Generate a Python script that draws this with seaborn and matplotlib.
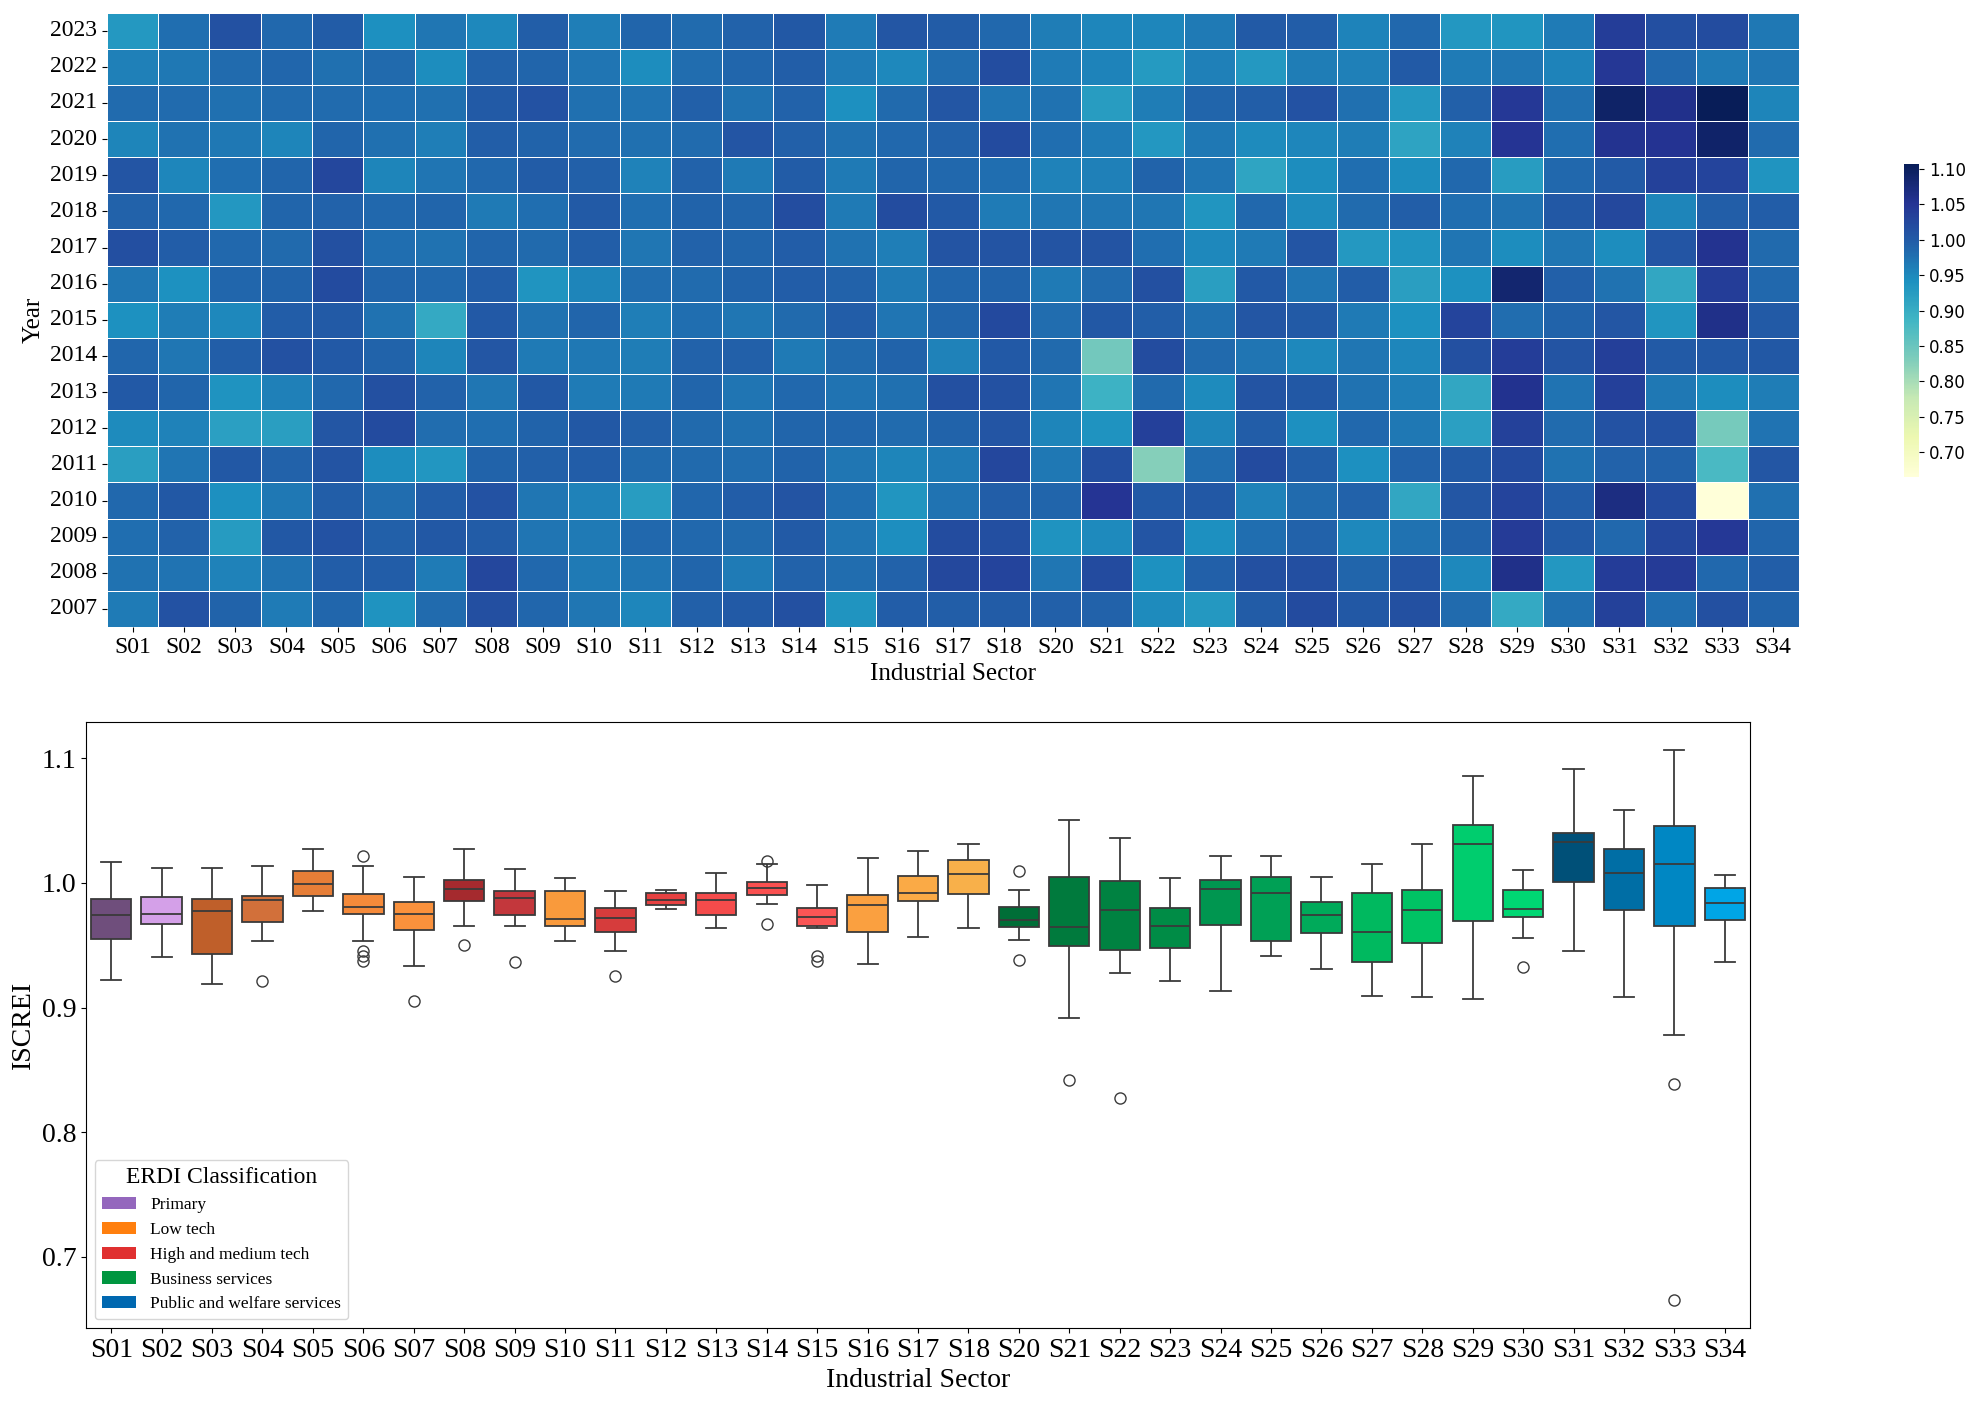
import numpy as np
import pandas as pd
import seaborn as sns
import matplotlib.pyplot as plt
from matplotlib.patches import Patch

plt.rcParams['font.family'] = ['Liberation Serif', 'DejaVu Serif']

years = list(range(2007, 2024))
sectors = ['S01', 'S02', 'S03', 'S04', 'S05', 'S06', 'S07', 'S08', 'S09', 'S10',
           'S11', 'S12', 'S13', 'S14', 'S15', 'S16', 'S17', 'S18', 'S20', 'S21',
           'S22', 'S23', 'S24', 'S25', 'S26', 'S27', 'S28', 'S29', 'S30', 'S31',
           'S32', 'S33', 'S34']

# ISCREI per sector, years 2007 -> 2023
S01 = [.965, .9745, .978, .985, .922, .948, 1.002, .987, .940, .970, 1.017, .993, 1.008, .955, .982, .960, .930]
S02 = [1.012, .973, .992, 1.004, .971, .958, .9884, .969, .963, .941, .998, .985, .952, .9755, .982, .9673, .979]
S03 = [.991, .958, .926, .9429, 1.004, .9193, .938, .996, .950, .9873, .985, .932, .979, .968, .9772, .982, 1.0122]
S04 = [.965, .975, 1.004, .9686, .993, .9212, .960, 1.0133, .998, .9897, .984, .989, .988, .9536, .981, .987, .986]
S05 = [.987, .997, 1.011, .995, 1.0093, 1.006, .985, 1.003, 1.001, 1.021, 1.015, .992, 1.0275, .9895, .981, .9772, .9991]
S06 = [.9378, .997, .994, .9804, .9453, 1.0216, 1.014, .9913, .9753, .988, .979, .986, .9536, .977, .978, .983, .9418]
S07 = [.982, .965, 1.0047, .998, .9333, .980, .993, .955, .9057, .9847, .9755, .988, .972, .9619, .977, .945, .969]
S08 = [1.016, 1.027, .999, 1.011, .991, .978, .970, 1.006, 1.0026, .997, .988, .9656, .9855, .9954, 1.001, .993, .9504]
S09 = [.9876, .986, .972, .969, .9932, .991, 1.004, .9656, .9742, .9365, .983, .978, .999, .990, 1.0112, .989, .996]
S10 = [.970, .967, .9656, .957, .997, 1.0037, .964, .968, .988, .9536, .995, 1.000, .9932, .982, .976, .9713, .961]
S11 = [.953, .9723, .986, .9257, .983, .9932, .966, .963, .9608, .9801, .969, .978, .958, .976, .974, .9458, .989]
S12 = [.994, .988, .985, .9865, .984, .983, .989, .993, .9788, .981, .9919, .990, .992, .982, .9935, .9805, .9815]
S13 = [1.001, .9638, .983, .997, .980, .977, .972, .994, .970, .990, .989, .988, .967, 1.0082, .9742, .9865, .9922]
S14 = [1.0149, .992, 1.0007, 1.009, .9903, .988, .986, .9667, .9828, .998, .997, 1.018, .999, .994, .993, .9959, 1.004]
S15 = [.9373, .9798, .971, .978, .969, .987, .9731, .983, .998, .992, .975, .967, .9656, .977, .9418, .965, .9638]
S16 = [.997, .993, .944, .9351, .955, .982, .977, .9905, .972, .967, .9608, 1.0197, .988, .986, .984, .950, 1.006]
S17 = [.995, 1.0253, 1.019, .973, .966, .991, 1.014, .957, .989, .987, 1.009, 1.002, .9855, .9922, 1.0055, .980, .999]
S18 = [.999, 1.031, 1.016, .995, 1.027, 1.0074, 1.013, 1.003, 1.024, .9913, 1.010, .9638, .978, 1.021, .972, 1.0187, .986]
S20 = [.994, .969, .938, .989, .968, .9544, .972, .984, .9809, .966, 1.0093, .9705, .958, .978, .975, .9646, .962]
S21 = [.992, 1.022, .9493, 1.0502, 1.016, .938, .8917, .8422, 1.0047, .982, 1.010, .970, .960, .9648, .925, .956, .952]
S22 = [.9466, .940, 1.008, 1.0018, .8272, 1.036, .984, 1.020, .996, 1.014, .978, .970, .990, .932, .962, .9276, .952]
S23 = [.930, .994, .942, 1.0037, .9798, .955, .9477, .983, .976, .9212, .951, .936, .972, .968, .988, .960, .9656]
S24 = [.999, 1.015, .978, .958, 1.0216, .997, 1.010, .972, 1.006, 1.0026, .9664, .986, .9134, .948, .9951, .930, 1.001]
S25 = [1.0216, 1.016, .9922, .982, .995, .9418, 1.0047, .951, 1.001, .972, 1.008, .948, .945, .9533, 1.012, .962, .998]
S26 = [1.0047, .988, .950, .992, .942, .9847, .9742, .970, .966, .998, .9306, .982, .979, .963, .976, .960, .956]
S27 = [1.0149, 1.007, .975, .9097, .9922, .968, .961, .953, .940, .922, .9362, .996, .945, .915, .930, 1.001, .985]
S28 = [.982, .9515, .990, 1.006, 1.000, .920, .9089, 1.015, 1.031, .940, .971, .978, .986, .957, .994, .964, .932]
S29 = [.9067, 1.062, 1.042, 1.031, 1.022, 1.034, 1.056, 1.038, .980, 1.0861, .945, .975, .925, 1.051, 1.0462, .9694, .935]
S30 = [.976, .9324, 1.000, .997, .975, .982, .9731, 1.0101, .990, .994, .970, 1.005, .986, .9788, .977, .956, .965]
S31 = [1.0328, 1.0403, .985, 1.068, .992, 1.012, 1.035, 1.037, 1.006, .975, .9458, 1.025, 1.0007, 1.055, 1.0917, 1.048, 1.039]
S32 = [.978, 1.043, 1.0275, 1.022, .992, 1.012, .968, 1.000, .935, .9089, 1.0082, .955, 1.034, 1.052, 1.0588, .985, 1.016]
S33 = [1.0149, .985, 1.0454, .665, .8784, .8385, .945, 1.005, 1.062, 1.038, 1.055, .995, 1.030, 1.090, 1.107, .9656, 1.020]
S34 = [.991, .9959, .988, .977, 1.0063, .974, .963, 1.004, 1.001, .986, .9839, .998, .9362, .981, .955, .9705, .968]

series = [S01, S02, S03, S04, S05, S06, S07, S08, S09, S10, S11, S12, S13, S14, S15, S16, S17,
          S18, S20, S21, S22, S23, S24, S25, S26, S27, S28, S29, S30, S31, S32, S33, S34]

# ERDI class of each sector and box colours
erdi = (['Primary'] * 2 + ['Low tech'] * 5 + ['High and medium tech'] * 2 + ['Low tech']
        + ['High and medium tech'] * 5 + ['Low tech'] * 3 + ['Business services'] * 11
        + ['Public and welfare services'] * 4)
box_colors = ['#6f4e7c', '#d4a0e8', '#bf5f2a', '#d2703a', '#e67e37', '#f58a3a', '#fa913c',
              '#a52a2e', '#c3373c', '#f99a3c', '#d63c3c', '#e64141', '#f54b4b', '#fa5050',
              '#fa5555', '#faa040', '#faaa46', '#f8b04a', '#006e37', '#007a3d', '#008241',
              '#008c46', '#009650', '#00a055', '#00aa5a', '#00b95f', '#00c364', '#00cd6e',
              '#00d773', '#005078', '#006ea5', '#0087c3', '#00a5e6']
class_names = ['Primary', 'Low tech', 'High and medium tech', 'Business services',
               'Public and welfare services']
class_colors = ['#9467bd', '#ff7f0e', '#e03030', '#009640', '#0068b0']

wide = pd.DataFrame(np.array(series).T, index=years, columns=sectors)
long = wide.reset_index().melt(id_vars='index', var_name='Sector', value_name='ISCREI')

fig = plt.figure(figsize=(19.77, 14.04), dpi=100)
ax1 = fig.add_axes([0.0541, 0.5534, 0.8558, 0.4376])
cax = fig.add_axes([0.9631, 0.6603, 0.0076, 0.2229])
ax2 = fig.add_axes([0.0435, 0.0541, 0.8417, 0.4316])

# heatmap
sns.heatmap(wide.iloc[::-1], ax=ax1, cmap='YlGnBu', linewidths=0.7, linecolor='white', cbar_ax=cax)
ax1.set_xlabel('Industrial Sector', fontsize=18)
ax1.set_ylabel('Year', fontsize=18)
ax1.tick_params(axis='both', labelsize=17)
ax1.set_yticklabels(ax1.get_yticklabels(), rotation=0)
cax.set_yticks(np.arange(0.70, 1.101, 0.05))
cax.set_yticklabels([f'{t:.2f}' for t in np.arange(0.70, 1.101, 0.05)], family='DejaVu Sans', fontsize=12)

# boxplot
sns.boxplot(data=long, x='Sector', y='ISCREI', hue='Sector', palette=box_colors, legend=False,
            ax=ax2, width=0.8, saturation=1, linecolor='#3a3a3a', linewidth=1.3,
            flierprops=dict(marker='o', markerfacecolor='none', markeredgecolor='#3a3a3a', markersize=8))
ax2.set_xlabel('Industrial Sector', fontsize=20)
ax2.set_ylabel('ISCREI', fontsize=20)
ax2.tick_params(axis='both', labelsize=20)
ax2.set_yticks([0.7, 0.8, 0.9, 1.0, 1.1])

handles = [Patch(facecolor=c, label=n) for n, c in zip(class_names, class_colors)]
ax2.legend(handles=handles, title='ERDI Classification', loc='lower left', fontsize=12.5,
           title_fontsize=17)

fig.savefig('out.png', dpi=100)
